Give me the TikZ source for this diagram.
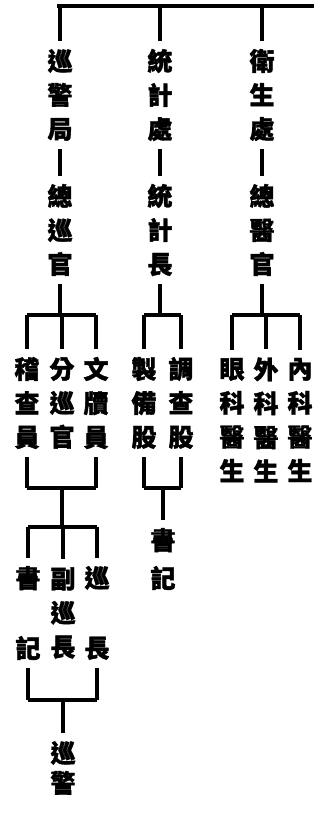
\documentclass[tikz,border=0pt]{standalone}
\usepackage{fontspec}
\newfontfamily\cjk{Noto Sans CJK TC}[BoldFeatures={FakeBold=1.5}]
\usetikzlibrary{calc}
\tikzset{
    post/.style={
        font=\cjk\bfseries\fontsize{25}{34}\selectfont,
        align=center, inner sep=0pt, outer xsep=0pt, outer ysep=8pt
    },
    widepost/.style={
        post, font=\cjk\bfseries\fontsize{25}{70}\selectfont
    },
    line/.style={line width=3.2pt, draw=black}
}

\begin{document}
\begin{tikzpicture}[x=1pt, y=-1pt]
    \useasboundingbox (0,0) rectangle (332,817);

    % top level offices
    \coordinate (bus0) at (57,6);
    \coordinate (bus0e) at (314,6);
    \node[post] (police) at (60,95) {巡\\警\\局};
    \node[post] (stat) at (160,95) {統\\計\\處};
    \node[post] (health) at (262,95) {衛\\生\\處};

    \node[post] (chief) at (60,230) {總\\巡\\官};
    \node[post] (statchief) at (160,230) {統\\計\\長};
    \node[post] (medchief) at (262,230) {總\\醫\\官};

    % sections
    \node[post] (inspect) at (27,403) {稽\\查\\員};
    \node[post] (subpolice) at (62,403) {分\\巡\\官};
    \node[post] (clerks) at (96,403) {文\\牘\\員};
    \node[post] (make) at (144,403) {製\\備\\股};
    \node[post] (survey) at (181,403) {調\\查\\股};
    \node[post] (eye) at (232,420) {眼\\科\\醫\\生};
    \node[post] (surg) at (266,420) {外\\科\\醫\\生};
    \node[post] (intern) at (300,420) {內\\科\\醫\\生};

    % lower ranks
    \node[widepost] (secretary) at (28,613) {書\\記};
    \node[post] (vicechief) at (63,613) {副\\巡\\長};
    \node[widepost] (sergeant) at (97,613) {巡\\長};
    \node[post, font=\cjk\bfseries\fontsize{25}{38}\selectfont] (clerk) at (163,559) {書\\記};
    \node[post, font=\cjk\bfseries\fontsize{25}{30}\selectfont] (patrol) at (63,768) {巡\\警};

    \coordinate (busA) at (0,315);
    \coordinate (busB) at (0,488);
    \coordinate (busC) at (0,527);
    \coordinate (busD) at (0,700);

    % top bar
    \draw[line] (bus0) -- (bus0e);
    \draw[line] (police |- bus0) -- (police);
    \draw[line] (stat |- bus0) -- (stat);
    \draw[line] (health |- bus0) -- (health);

    \draw[line] (police) -- (chief);
    \draw[line] (stat) -- (statchief);
    \draw[line] (health) -- (medchief);

    % police branch
    \draw[line] (chief) -- (chief |- busA);
    \draw[line] (inspect |- busA) -- (clerks |- busA);
    \draw[line] (inspect |- busA) -- (inspect);
    \draw[line] (subpolice |- busA) -- (subpolice);
    \draw[line] (clerks |- busA) -- (clerks);
    \draw[line] (inspect) -- (inspect |- busB);
    \draw[line] (clerks) -- (clerks |- busB);
    \draw[line] (inspect |- busB) -- (clerks |- busB);
    \draw[line] (subpolice |- busB) -- (subpolice |- busC);
    \draw[line] (secretary |- busC) -- (sergeant |- busC);
    \draw[line] (secretary |- busC) -- (secretary);
    \draw[line] (vicechief |- busC) -- (vicechief);
    \draw[line] (sergeant |- busC) -- (sergeant);
    \draw[line] (secretary) -- (secretary |- busD);
    \draw[line] (sergeant) -- (sergeant |- busD);
    \draw[line] (secretary |- busD) -- (sergeant |- busD);
    \draw[line] (patrol |- busD) -- (patrol);

    % statistics branch
    \draw[line] (statchief) -- (statchief |- busA);
    \draw[line] (make |- busA) -- (survey |- busA);
    \draw[line] (make |- busA) -- (make);
    \draw[line] (survey |- busA) -- (survey);
    \draw[line] (make) -- (make |- busB);
    \draw[line] (survey) -- (survey |- busB);
    \draw[line] (make |- busB) -- (survey |- busB);
    \draw[line] (clerk |- busB) -- (clerk);

    % health branch
    \draw[line] (medchief) -- (medchief |- busA);
    \draw[line] (eye |- busA) -- (intern |- busA);
    \draw[line] (eye |- busA) -- (eye);
    \draw[line] (surg |- busA) -- (surg);
    \draw[line] (intern |- busA) -- (intern);
\end{tikzpicture}
\end{document}
